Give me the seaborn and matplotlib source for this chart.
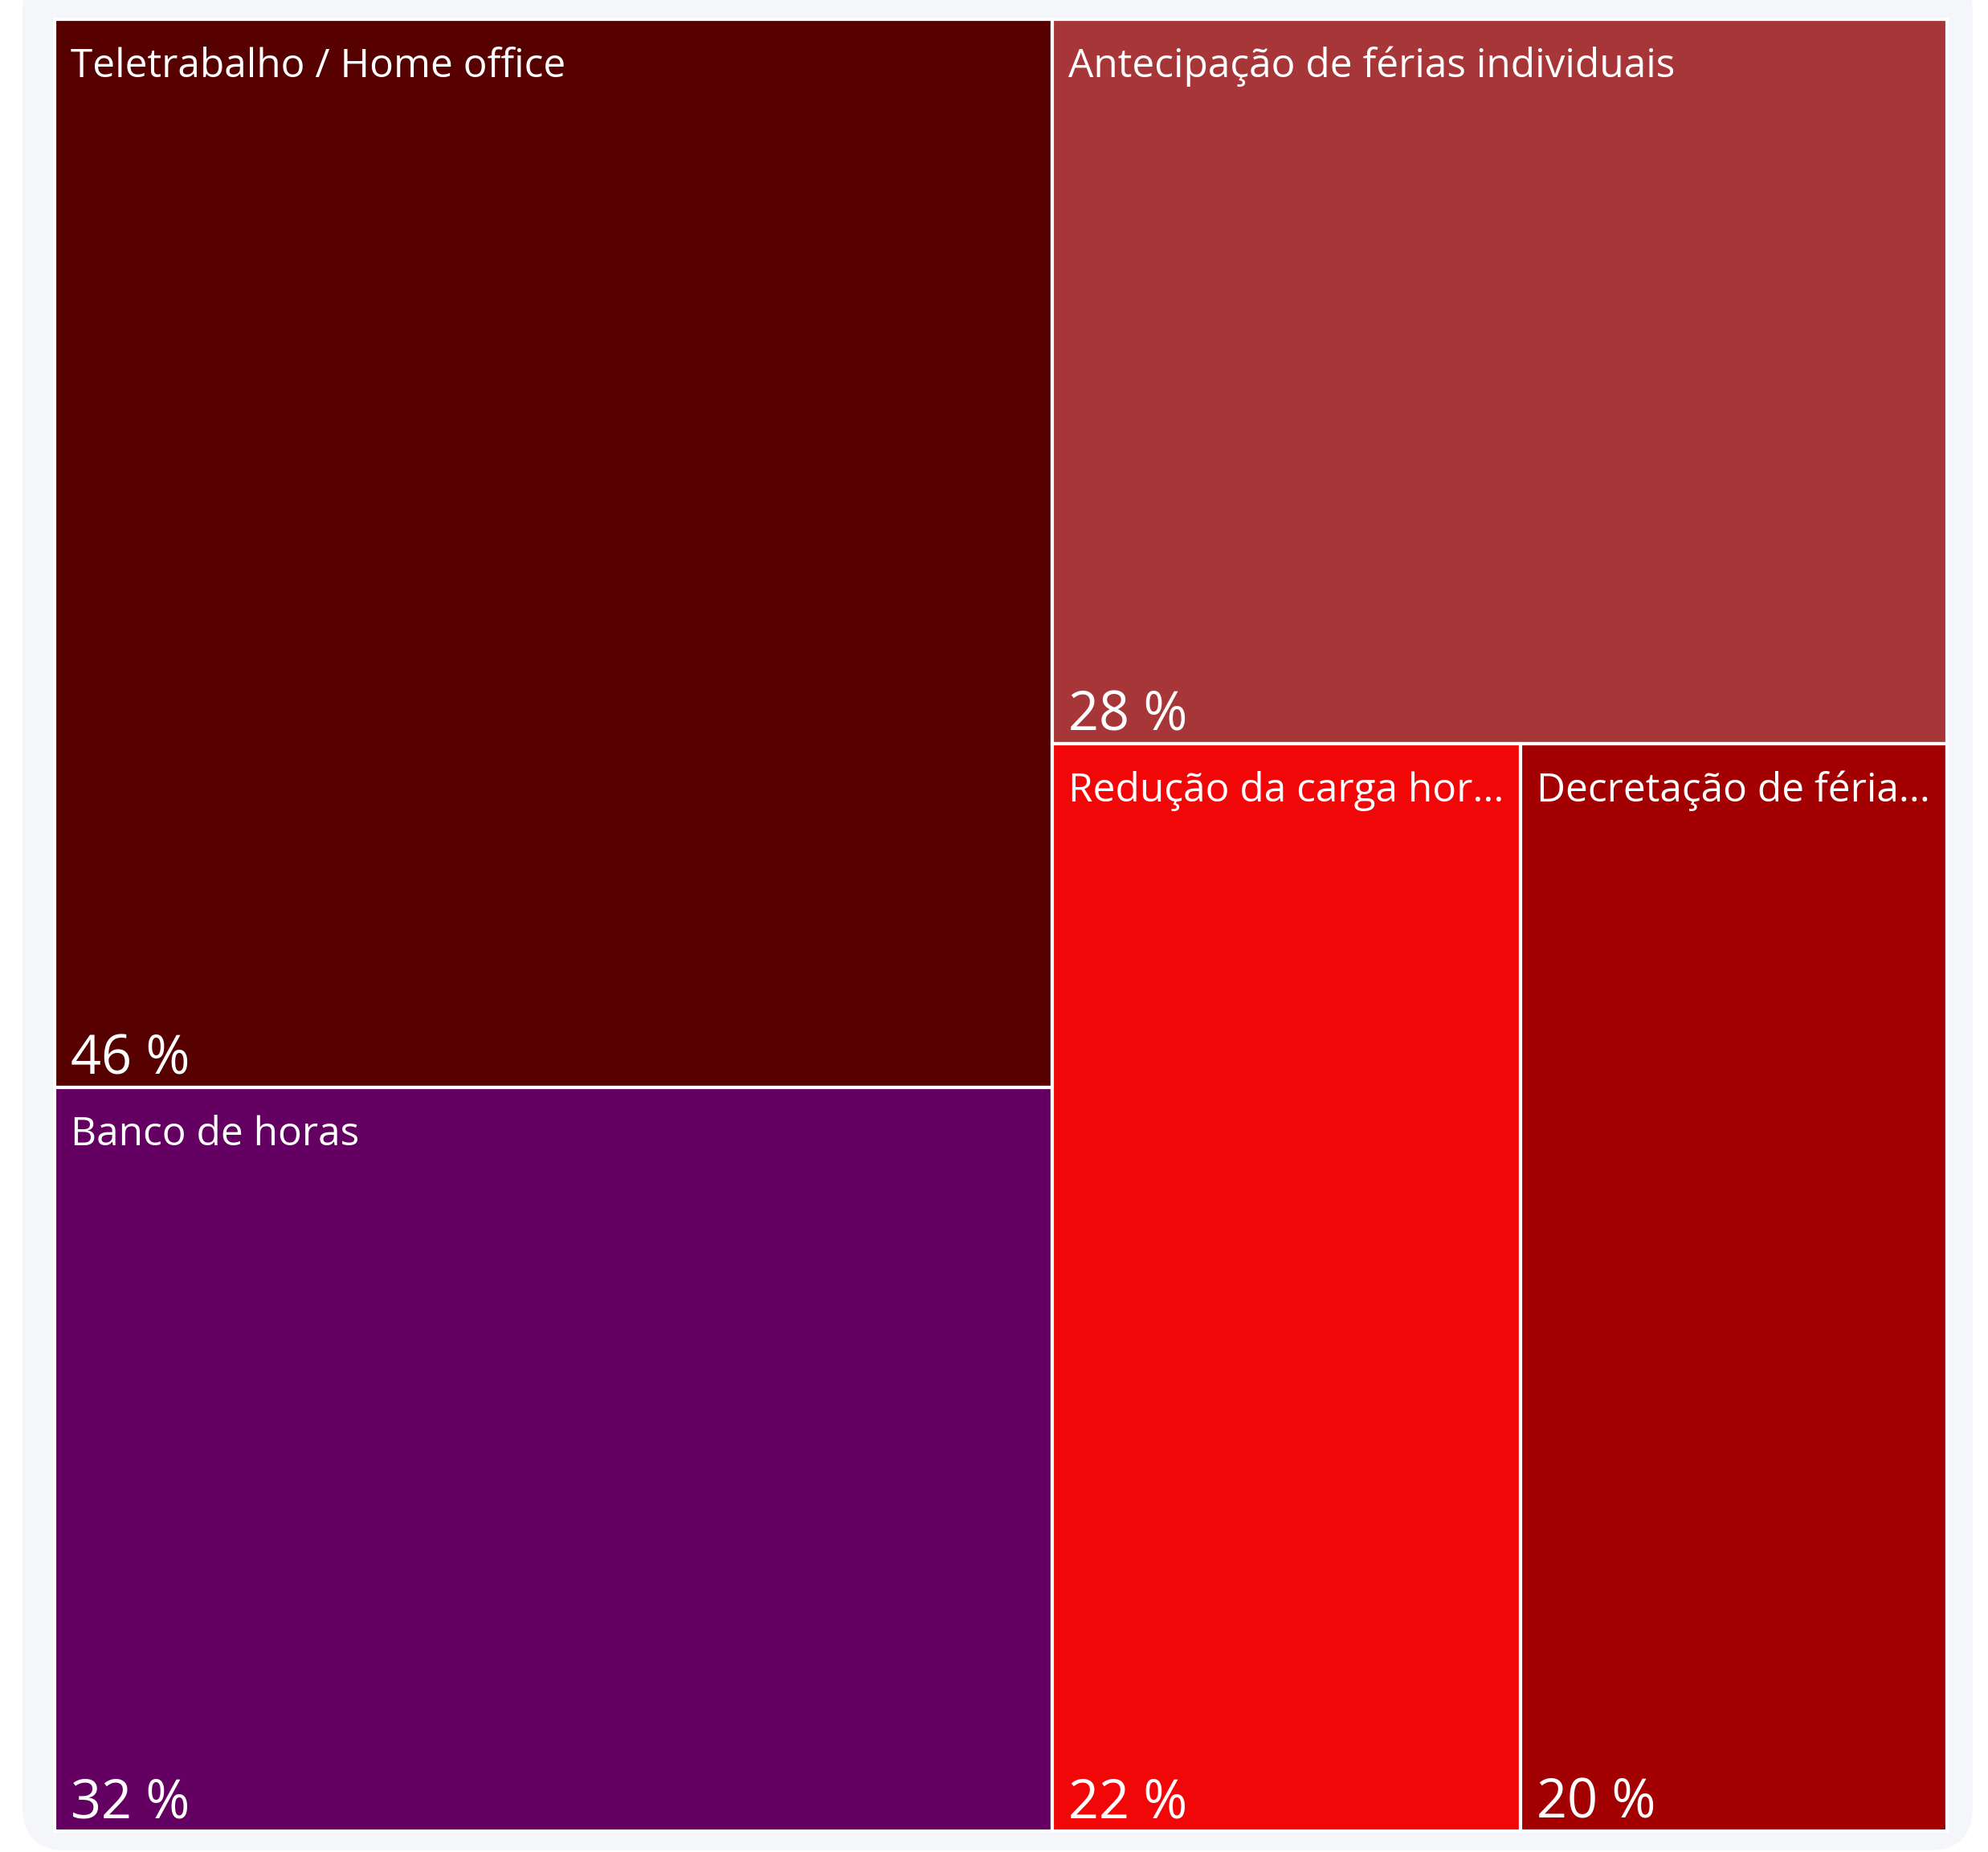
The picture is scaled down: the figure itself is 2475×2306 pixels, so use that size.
import matplotlib
matplotlib.use("Agg")
import matplotlib.pyplot as plt
from matplotlib.patches import Rectangle, FancyBboxPatch
import seaborn as sns

# ---- data ----
categories = ["Teletrabalho / Home office", "Banco de horas",
              "Antecipação de férias individuais",
              "Redução da carga hor...", "Decretação de féria..."]
values = [46, 32, 28, 22, 20]
value_labels = ["46 %", "32 %", "28 %", "22 %", "20 %"]
colors = ["#560000", "#630061", "#A63638", "#F10707", "#A30101"]

sns.set_theme(style="white")
plt.rcParams["font.family"] = ["Open Sans", "DejaVu Sans"]

W, H = 2475, 2306
fig = plt.figure(figsize=(W / 100, H / 100), dpi=100)
ax = fig.add_axes([0, 0, 1, 1])
ax.set_xlim(0, W)
ax.set_ylim(H, 0)
ax.axis("off")
fig.patch.set_facecolor("white")

# background panel
ax.add_patch(FancyBboxPatch((28, -40), 2428, 2344,
                            boxstyle="round,pad=0,rounding_size=55",
                            facecolor="#F5F6FA", edgecolor="none", zorder=0))


def layout(idx, x, y, w, h, depth, out):
    """Balanced binary split, alternating orientation by depth."""
    if len(idx) == 1:
        out[idx[0]] = (x, y, w, h)
        return
    vals = [values[i] for i in idx]
    tot = sum(vals)
    best, bk, acc = None, 1, 0
    for k in range(1, len(idx)):
        acc += vals[k - 1]
        d = abs(tot - 2 * acc)
        if best is None or d < best:
            best, bk = d, k
    a = idx[:bk]
    b = idx[bk:]
    fa = sum(values[i] for i in a) / tot
    if depth % 2 == 0:
        layout(a, x, y, w * fa, h, depth + 1, out)
        layout(b, x + w * fa, y, w * (1 - fa), h, depth + 1, out)
    else:
        layout(a, x, y, w, h * fa, depth + 1, out)
        layout(b, x, y + h * fa, w, h * (1 - fa), depth + 1, out)


rects = {}
order = sorted(range(len(values)), key=lambda i: -values[i])
layout(order, 68, 24, 2356, 2256, 0, rects)

for i, (x, y, w, h) in rects.items():
    ax.add_patch(Rectangle((x, y), w, h, facecolor=colors[i],
                           edgecolor="white", linewidth=3.0, zorder=2))
    ax.text(x + 20, y + 72, categories[i], color="white", fontsize=35.7,
            va="baseline", ha="left", zorder=3)
    ax.text(x + 20, y + h - 17, value_labels[i], color="white", fontsize=48,
            va="baseline", ha="left", zorder=3)

fig.savefig("out.png", dpi=100, facecolor="white")
